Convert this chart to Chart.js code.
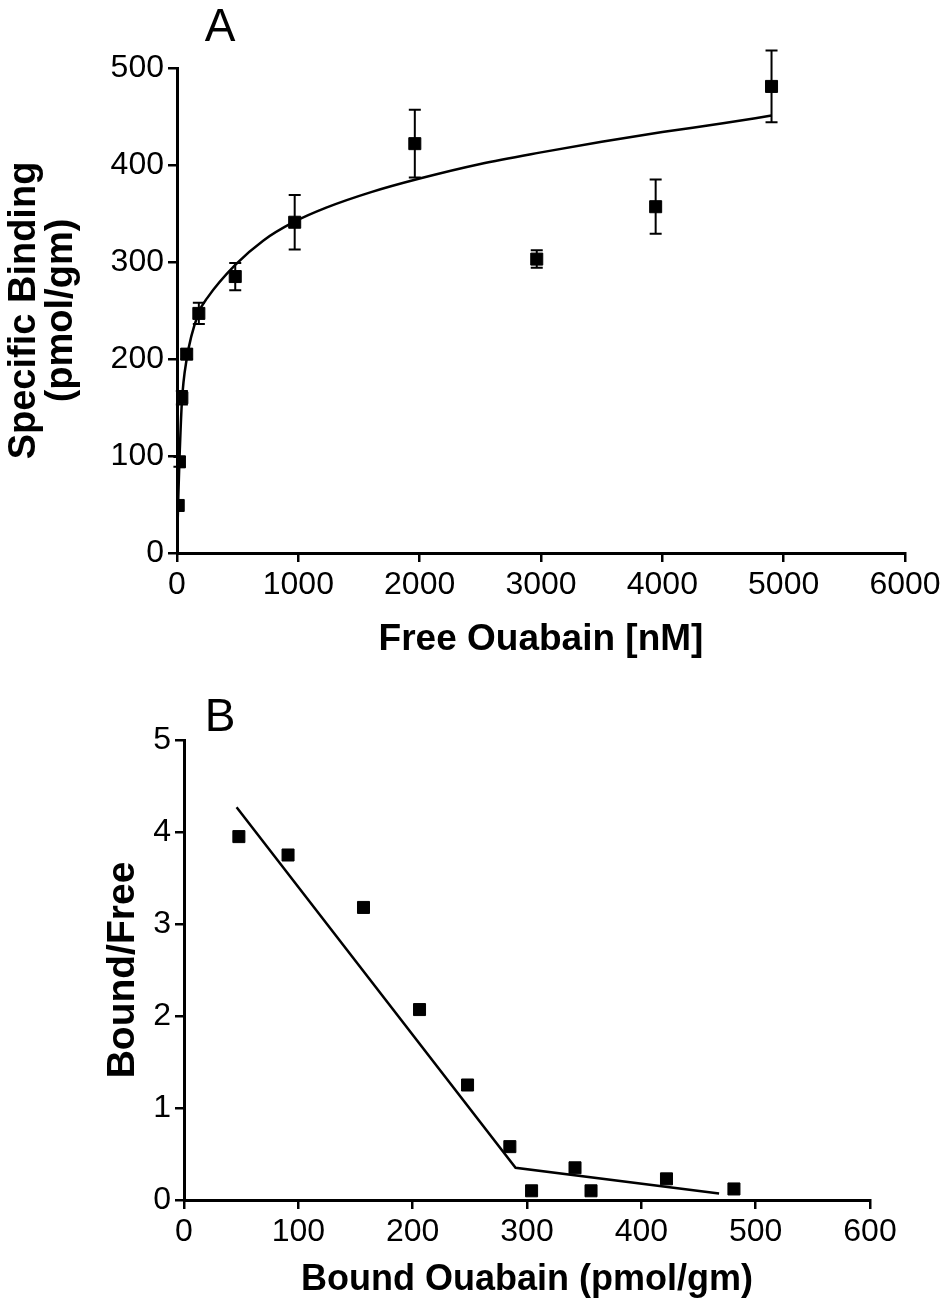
<!DOCTYPE html>
<html lang="en">
<head>
<meta charset="UTF-8">
<title>Ouabain binding</title>
<script src="https://cdn.jsdelivr.net/npm/chart.js@4.4.1/dist/chart.umd.min.js"></script>
<style>
    body { margin: 0; background: #fff; }
    #wrapA { position: absolute; left: 0; top: 0; }
    #wrapB { position: absolute; left: 0; top: 680px; }
</style>
</head>
<body>
<div id="wrapA"><canvas id="chartA" width="946" height="680"></canvas></div>
<div id="wrapB"><canvas id="chartB" width="946" height="622"></canvas></div>
<script>
// Panel A - specific binding vs free ouabain
const freeOuabain = [10, 20, 40, 80, 180, 480, 970, 1960, 2965, 3945, 4900];
const specBinding = [49, 94, 160, 205, 247, 285, 341, 422, 303, 357, 481];
const bindingErr  = [0, 5, 7, 5, 11, 14, 28, 35, 9, 28, 37];
// fitted curve
const fitFree    = [0, 5, 10, 20, 40, 80, 180, 250, 480, 710, 960, 1230, 1600, 2000, 2500, 3000, 3500, 4000, 4500, 4900];
const fitBinding = [0, 30, 55, 95, 155, 200, 248, 263, 297, 322, 341, 356, 372, 386, 401, 413, 424, 434, 443, 451];

// Panel B - Scatchard plot
const boundOuabain = [48, 91, 157, 206, 248, 285, 304, 342, 356, 422, 481];
const boundFree    = [3.95, 3.75, 3.18, 2.07, 1.25, 0.58, 0.10, 0.35, 0.10, 0.23, 0.12];
const lineBound = [46, 290, 468];
const lineRatio = [4.27, 0.35, 0.07];

const FONT = "'Liberation Sans', Arial, Helvetica, sans-serif";

function pts(xs, ys) {
    return xs.map((x, i) => ({x: x, y: ys[i]}));
}

// error bars drawn through the chart scales
const errorBars = {
    id: 'errorBars',
    afterDatasetsDraw(chart, args, opts) {
        if (!opts.errors) return;
        const ctx = chart.ctx;
        const xs = chart.scales.x, ys = chart.scales.y;
        const data = chart.data.datasets[opts.datasetIndex].data;
        ctx.save();
        ctx.strokeStyle = '#000';
        ctx.lineWidth = 2;
        data.forEach((p, i) => {
            const e = opts.errors[i];
            if (!e) return;
            const px = xs.getPixelForValue(p.x);
            const top = ys.getPixelForValue(p.y + e);
            const bot = ys.getPixelForValue(p.y - e);
            ctx.beginPath();
            ctx.moveTo(px, top); ctx.lineTo(px, bot);
            ctx.moveTo(px - 6, top); ctx.lineTo(px + 6, top);
            ctx.moveTo(px - 6, bot); ctx.lineTo(px + 6, bot);
            ctx.stroke();
        });
        ctx.restore();
    }
};

const panelLetter = {
    id: 'panelLetter',
    afterDraw(chart, args, opts) {
        const ctx = chart.ctx;
        ctx.save();
        ctx.fillStyle = '#000';
        ctx.font = '46px ' + FONT;
        ctx.textAlign = 'center';
        ctx.textBaseline = 'middle';
        ctx.fillText(opts.text, opts.x, opts.y);
        ctx.restore();
    }
};

function axis(min, max, step, title, titleSize, lineH, fitSize, titlePad) {
    return {
        type: 'linear',
        min: min, max: max,
        ticks: { stepSize: step, color: '#000', padding: 4, font: { family: FONT, size: 32 },
                 callback: v => String(v) },
        grid: { display: true, drawOnChartArea: false, drawTicks: true, tickLength: 9, color: '#000', lineWidth: 2.5 },
        border: { display: true, color: '#000', width: 3 },
        title: { display: true, text: title, color: '#000', padding: titlePad,
                 font: { family: FONT, size: titleSize, weight: 'bold', lineHeight: lineH } },
        afterFit: fitSize
    };
}

new Chart(document.getElementById('chartA'), {
    type: 'scatter',
    data: {
        datasets: [
            { data: pts(freeOuabain, specBinding), pointStyle: 'rect', pointRadius: 8.5,
              backgroundColor: '#000', borderColor: '#000', showLine: false },
            { data: pts(fitFree, fitBinding), showLine: true, pointRadius: 0,
              borderColor: '#000', borderWidth: 2.5, cubicInterpolationMode: 'monotone', fill: false }
        ]
    },
    options: {
        responsive: false,
        devicePixelRatio: 1,
        animation: false,
        layout: { padding: { left: 0, right: 41, top: 68, bottom: 18 } },
        plugins: {
            legend: { display: false },
            tooltip: { enabled: false },
            errorBars: { datasetIndex: 0, errors: bindingErr },
            panelLetter: { text: 'A', x: 220, y: 28 }
        },
        scales: {
            x: axis(0, 6000, 1000, 'Free Ouabain [nM]', 37, 1.2, s => { s.height = 109; }, { top: 8, bottom: 0 }),
            y: axis(0, 500, 100, ['Specific Binding', '(pmol/gm)'], 38, 0.97, s => { s.width = 177; }, { top: 6, bottom: 0 })
        }
    },
    plugins: [errorBars, panelLetter]
});

new Chart(document.getElementById('chartB'), {
    type: 'scatter',
    data: {
        datasets: [
            { data: pts(boundOuabain, boundFree), pointStyle: 'rect', pointRadius: 8.5,
              backgroundColor: '#000', borderColor: '#000', showLine: false },
            { data: pts(lineBound, lineRatio), showLine: true, pointRadius: 0,
              borderColor: '#000', borderWidth: 2.5, fill: false }
        ]
    },
    options: {
        responsive: false,
        devicePixelRatio: 1,
        animation: false,
        layout: { padding: { left: 0, right: 76, top: 60, bottom: 0 } },
        plugins: {
            legend: { display: false },
            tooltip: { enabled: false },
            panelLetter: { text: 'B', x: 220, y: 38 }
        },
        scales: {
            x: axis(0, 600, 100, 'Bound Ouabain (pmol/gm)', 36, 1.2, s => { s.height = 102; }, { top: 4, bottom: 0 }),
            y: axis(0, 5, 1, 'Bound/Free', 39, 1.2, s => { s.width = 184; }, { top: 100, bottom: 0 })
        }
    },
    plugins: [panelLetter]
});
</script>
</body>
</html>
